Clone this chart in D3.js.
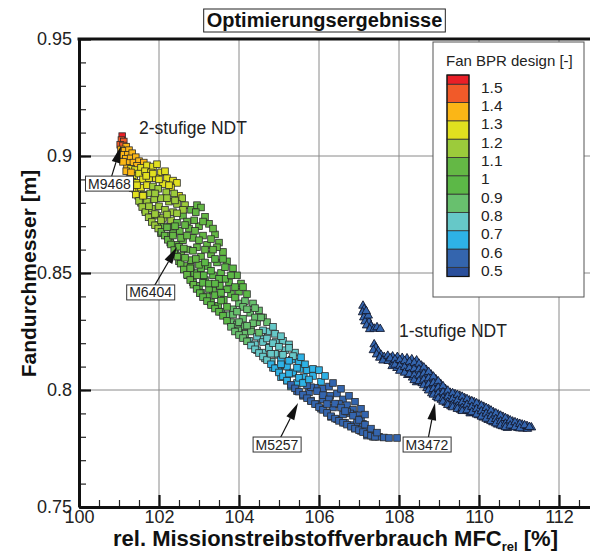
<!DOCTYPE html>
<html lang="de">
<head>
<meta charset="utf-8">
<title>Optimierungsergebnisse</title>
<script src="https://cdn.jsdelivr.net/npm/d3@7"></script>
<style>
  body { margin: 0; background: #fff; }
  svg { display: block; font-family: "Liberation Sans", Arial, sans-serif; }
</style>
</head>
<body>
<div id="chart"></div>
<script>
// axis ticks
const xTicks = [100, 102, 104, 106, 108, 110, 112]
const yTicks = [0.75, 0.8, 0.85, 0.9, 0.95]
const yTickLabels = ['0.75', '0.8', '0.85', '0.9', '0.95']

// Fan BPR legend levels and colours (12 bands)
const bprLevels = [0.5, 0.6, 0.7, 0.8, 0.9, 1.0, 1.1, 1.2, 1.3, 1.4, 1.5]
const bprLabels = ['0.5', '0.6', '0.7', '0.8', '0.9', '1', '1.1', '1.2', '1.3', '1.4', '1.5']
const bprColors = ['#2a4f9c', '#3465ae', '#2eb2e6', '#66c8c8', '#68c06e', '#5cb847',
                   '#64b845', '#9ccb3b', '#e1e01f', '#fbb616', '#f15a29', '#e91f27']

// 2-stufige NDT: [MFC rel %, Fandurchmesser m, Fan BPR]
const twoStage = [
  [101.08,.9085,1.52],[101.06,.9068,1.46],[101.12,.9062,1.44],[101.03,.9048,1.42],[101.10,.9045,1.41],
  [101.18,.9040,1.38],[101.05,.9028,1.39],[101.14,.9022,1.37],[101.25,.9025,1.36],[101.10,.9005,1.36],
  [101.22,.9005,1.35],[101.33,.9012,1.34],[101.17,.8988,1.34],[101.29,.8990,1.33],[101.42,.8995,1.33],
  [101.24,.8970,1.32],[101.36,.8972,1.32],[101.50,.8978,1.31],[101.62,.8972,1.31],[101.45,.8958,1.31],
  [101.20,.8950,1.31],
  [101.30,.8945,1.28],[101.40,.8940,1.27],[101.55,.8950,1.28],[101.70,.8960,1.27],[101.85,.8955,1.26],
  [101.95,.8965,1.25],[101.28,.8920,1.26],[101.38,.8915,1.25],[101.50,.8925,1.25],[101.65,.8935,1.25],
  [101.80,.8930,1.24],[102.05,.8930,1.23],[102.20,.8905,1.22],[102.35,.8895,1.22],[102.45,.8885,1.21],
  [101.33,.8890,1.24],[101.45,.8885,1.23],[101.60,.8900,1.23],[101.75,.8905,1.22],[101.92,.8905,1.22],
  [102.10,.8880,1.21],[102.30,.8865,1.21],[102.50,.8830,1.21],[101.40,.8860,1.22],[101.55,.8865,1.21],
  [101.70,.8875,1.21],
  [101.85,.8870,1.19],[101.98,.8860,1.18],[102.18,.8845,1.17],[102.38,.8840,1.16],[102.58,.8820,1.15],
  [101.48,.8830,1.19],[101.62,.8835,1.18],[101.78,.8840,1.18],[101.55,.8800,1.17],[101.70,.8805,1.16],
  [101.88,.8815,1.16],[102.05,.8820,1.15],[102.25,.8805,1.14],[102.45,.8795,1.13],[101.65,.8770,1.15],
  [101.82,.8775,1.14],[102.00,.8785,1.13],[102.15,.8770,1.12],[102.35,.8760,1.12],[102.65,.8790,1.11],
  [101.80,.8740,1.13],[101.95,.8745,1.12],[102.10,.8735,1.11],[102.30,.8725,1.11],
  [101.98,.8705,1.09],[102.12,.8700,1.08],[102.28,.8695,1.08],[102.45,.8715,1.07],[102.60,.8745,1.07],
  [102.80,.8770,1.06],[102.95,.8790,1.06],[103.05,.8780,1.05],[102.92,.8760,1.05],[103.15,.8740,1.05],
  [102.70,.8720,1.06],[102.05,.8670,1.07],[102.20,.8660,1.06],[102.35,.8670,1.06],[102.52,.8680,1.05],
  [102.75,.8690,1.05],[103.00,.8700,1.04],[103.25,.8710,1.03],[102.28,.8630,1.05],[102.42,.8620,1.05],
  [102.60,.8640,1.04],[102.85,.8650,1.03],[103.10,.8660,1.03],[103.40,.8665,1.02],[102.40,.8590,1.04],
  [102.55,.8575,1.03],[102.72,.8600,1.03],[102.95,.8610,1.02],[103.20,.8620,1.02],[103.50,.8630,1.01],
  [102.50,.8550,1.02],[102.65,.8530,1.02],[102.80,.8555,1.01],[103.05,.8570,1.01],[103.30,.8580,1.01],
  [103.60,.8590,1.00],
  [102.72,.8490,0.99],[102.88,.8500,0.99],[103.05,.8520,0.98],[103.22,.8530,0.98],[103.45,.8545,0.97],
  [103.70,.8550,0.97],[103.85,.8520,0.96],[102.85,.8460,0.98],[103.00,.8445,0.97],[103.15,.8470,0.97],
  [103.35,.8490,0.96],[103.55,.8500,0.96],[103.95,.8490,0.95],[103.05,.8415,0.96],[103.20,.8400,0.95],
  [103.35,.8425,0.95],[103.52,.8445,0.94],[103.75,.8460,0.94],[104.05,.8455,0.93],[103.30,.8375,0.94],
  [103.48,.8360,0.93],[103.62,.8385,0.93],[103.80,.8410,0.92],[104.00,.8420,0.92],[104.20,.8410,0.91],
  [103.55,.8335,0.89],[103.70,.8320,0.89],[103.85,.8345,0.88],[104.00,.8370,0.88],[104.15,.8380,0.87],
  [104.35,.8370,0.87],[103.80,.8290,0.87],[103.95,.8280,0.86],[104.10,.8305,0.86],[104.28,.8330,0.85],
  [104.50,.8340,0.85],[104.00,.8255,0.85],[104.15,.8240,0.84],[104.30,.8265,0.83],[104.45,.8290,0.83],
  [104.60,.8310,0.82],
  [104.25,.8210,0.79],[104.40,.8195,0.79],[104.55,.8220,0.78],[104.72,.8250,0.78],[104.90,.8240,0.77],
  [104.45,.8170,0.77],[104.60,.8160,0.76],[104.75,.8185,0.76],[104.92,.8205,0.75],[105.10,.8210,0.74],
  [105.25,.8195,0.73],[104.65,.8135,0.74],[104.82,.8120,0.73],[104.98,.8150,0.72],[105.15,.8170,0.72],
  [105.40,.8160,0.71],
  [104.85,.8095,0.69],[105.00,.8080,0.69],[105.15,.8105,0.68],[105.32,.8130,0.68],[105.50,.8120,0.67],
  [105.05,.8055,0.67],[105.20,.8040,0.66],[105.35,.8070,0.66],[105.52,.8090,0.65],[105.70,.8085,0.65],
  [105.30,.8015,0.64],[105.45,.8030,0.63],[105.62,.8055,0.63],[105.85,.8060,0.62],[106.05,.8035,0.61],
  [105.45,.7995,0.59],[105.60,.7975,0.58],[105.75,.7990,0.58],[105.90,.8010,0.58],[106.10,.8005,0.57],
  [106.25,.8015,0.57],[105.80,.7955,0.57],[105.95,.7940,0.57],[106.10,.7960,0.56],[106.28,.7975,0.56],
  [106.45,.7985,0.56],[106.60,.7960,0.55],[106.05,.7920,0.56],[106.20,.7905,0.55],[106.35,.7925,0.55],
  [106.50,.7940,0.55],[106.70,.7935,0.54],[106.85,.7915,0.54],[106.30,.7885,0.54],[106.45,.7875,0.54],
  [106.60,.7895,0.54],[106.78,.7900,0.53],[106.95,.7895,0.53],[107.05,.7875,0.53],[106.65,.7860,0.53],
  [106.80,.7850,0.53],[106.95,.7860,0.52],[107.10,.7855,0.52],[106.90,.7835,0.52],[107.05,.7825,0.52],
  [107.20,.7830,0.52],[107.35,.7815,0.52],[107.20,.7805,0.51],[107.35,.7800,0.51],[107.50,.7800,0.51],
  [107.62,.7797,0.51],[107.75,.7795,0.51],[107.95,.7795,0.51],
  // dense lower edge
  [101.10,.8975,1.37],[101.18,.8935,1.33],[101.26,.8900,1.28],[101.34,.8862,1.25],[101.42,.8835,1.22],
  [101.50,.8808,1.19],[101.58,.8782,1.17],[101.66,.8760,1.15],[101.74,.8738,1.13],[101.82,.8718,1.12],
  [101.90,.8704,1.11],[101.98,.8690,1.10],[102.06,.8676,1.09],[102.14,.8660,1.08],[102.22,.8642,1.07],
  [102.30,.8622,1.06],[102.38,.8598,1.05],[102.46,.8570,1.05],[102.54,.8540,1.04],[102.62,.8515,1.03],
  [102.70,.8492,1.02],[102.78,.8470,1.01],[102.86,.8450,1.00],[102.94,.8432,0.99],[103.02,.8414,0.98],
  [103.10,.8397,0.98],[103.20,.8380,0.97],[103.30,.8363,0.96],[103.40,.8348,0.95],[103.50,.8334,0.94],
  [103.60,.8317,0.92],[103.70,.8296,0.90],[103.80,.8270,0.89],[103.90,.8250,0.88],[104.00,.8235,0.86],
  [104.10,.8222,0.84],[104.20,.8208,0.81],[104.30,.8190,0.79],[104.40,.8174,0.77],[104.50,.8158,0.75],
  [104.60,.8143,0.73],[104.70,.8128,0.71],[104.80,.8110,0.69],[104.90,.8093,0.67],[105.00,.8075,0.65],
  [105.10,.8058,0.63],[105.20,.8040,0.61],[105.30,.8022,0.59],[105.40,.8007,0.58],[105.50,.7993,0.57],
  [105.60,.7980,0.57],[105.70,.7965,0.56],[105.80,.7952,0.56],[105.90,.7940,0.55],[106.00,.7927,0.55],
  [106.10,.7915,0.55],[106.20,.7902,0.54],[106.30,.7888,0.54],[106.40,.7878,0.54],[106.50,.7868,0.53],
  [106.60,.7860,0.53],[106.70,.7852,0.53],[106.80,.7843,0.53],[106.90,.7835,0.52],[107.00,.7828,0.52],
  [107.10,.7820,0.52],[107.20,.7812,0.52],[107.30,.7805,0.51],[107.40,.7800,0.51],
  // second row above the edge
  [101.30,.8930,1.30],[101.45,.8875,1.24],[101.60,.8830,1.20],[101.75,.8785,1.16],[101.90,.8752,1.13],
  [102.05,.8725,1.11],[102.20,.8695,1.09],[102.35,.8660,1.07],[102.50,.8612,1.05],[102.65,.8565,1.04],
  [102.80,.8525,1.02],[102.95,.8490,1.00],[103.10,.8458,0.98],[103.25,.8432,0.97],[103.40,.8405,0.95],
  [103.55,.8382,0.93],[103.70,.8355,0.91],[103.85,.8322,0.89],[104.00,.8290,0.87],[104.15,.8272,0.85],
  [104.30,.8250,0.82],[104.45,.8228,0.79],[104.60,.8205,0.77],[104.75,.8180,0.74],[104.90,.8155,0.71],
  [105.05,.8128,0.68],[105.20,.8100,0.66],[105.35,.8075,0.64],[105.50,.8052,0.62],[105.65,.8032,0.60],
  [105.80,.8012,0.58],[105.95,.7995,0.57],[106.10,.7978,0.56],[106.25,.7960,0.55],[106.40,.7942,0.55],
  [106.55,.7925,0.54],[106.70,.7908,0.54],[106.85,.7890,0.53],[107.00,.7872,0.53],[107.15,.7852,0.52],
  [107.30,.7835,0.52],[107.45,.7818,0.51],
  // scattered fill in the upper part of the band
  [102.55,.8650,1.05],[102.90,.8680,1.04],[103.35,.8690,1.03],[102.85,.8595,1.03],[103.15,.8600,1.02],
  [103.45,.8610,1.01],[103.00,.8535,1.00],[103.40,.8560,0.98],[103.65,.8525,0.97],[103.25,.8455,0.96],
  [103.65,.8475,0.95],[103.90,.8440,0.93],[104.10,.8355,0.87],[104.40,.8310,0.84],[104.70,.8290,0.80],
  [104.60,.8255,0.79],[104.85,.8270,0.78],[105.05,.8230,0.75],[105.25,.8180,0.73],[105.35,.8145,0.70],
  [105.55,.8140,0.68],[105.10,.8150,0.72],[105.65,.8110,0.64],[105.85,.8090,0.62],[106.00,.8085,0.61],
  [106.15,.8060,0.60],[106.35,.8030,0.58],[106.55,.8005,0.57],[106.75,.7975,0.56],[106.90,.7950,0.55],
  [107.05,.7920,0.55],[107.15,.7895,0.54],[106.20,.7940,0.56],[106.65,.7910,0.54],[105.70,.8020,0.59],
  [102.40,.8700,1.07],[102.65,.8705,1.06],[102.88,.8725,1.05],[103.10,.8720,1.04],[102.70,.8660,1.04],
  [103.00,.8640,1.03],[103.30,.8645,1.02],[102.62,.8605,1.04],[103.35,.8600,1.01],[103.60,.8560,0.98],
  [102.92,.8560,1.01],[103.15,.8545,0.99],[102.78,.8520,1.01],[103.30,.8510,0.97],[103.50,.8475,0.96],
  [103.80,.8490,0.95],[103.12,.8490,0.98],[103.40,.8455,0.95],[103.70,.8430,0.93],[103.90,.8395,0.91],
  [104.10,.8440,0.92],[103.55,.8415,0.94],[103.95,.8335,0.88],[104.20,.8345,0.87],[104.40,.8350,0.86],
  [104.55,.8310,0.84],[104.35,.8285,0.84],[104.20,.8275,0.84],[104.50,.8245,0.81],[104.70,.8220,0.78],
  [104.85,.8200,0.76],[105.00,.8185,0.74],[104.80,.8155,0.74],[105.05,.8110,0.69],[105.25,.8125,0.69],
  [105.45,.8095,0.66],[105.25,.8070,0.66],[105.60,.8030,0.61],[105.75,.8045,0.62],
  [101.85,.8925,1.25],[102.00,.8900,1.23],[102.25,.8875,1.21],[101.68,.8915,1.24],[102.15,.8935,1.24],
  [101.90,.8840,1.18],[102.20,.8820,1.15],[102.40,.8810,1.14],[102.60,.8770,1.10],[102.45,.8755,1.10],
  [102.20,.8750,1.11]
]

// 1-stufige NDT: [MFC rel %, Fandurchmesser m]
const oneStage = [
  [107.10,.8360],[107.13,.8346],[107.09,.8332],[107.16,.8322],[107.12,.8310],[107.21,.8306],[107.15,.8293],
  [107.25,.8290],[107.19,.8276],[107.30,.8273],[107.27,.8260],[107.38,.8262],[107.45,.8268],[107.53,.8261],
  [107.23,.8318],[107.18,.8337],
  [107.38,.8195],[107.42,.8181],[107.36,.8170],[107.48,.8166],[107.44,.8152],[107.55,.8150],[107.52,.8138],
  [107.63,.8141],[107.60,.8126],
  [107.72,.8146],[107.73,.8124],[107.84,.8143],[107.85,.8119],[107.83,.8102],[107.96,.8141],[107.97,.8117],
  [107.95,.8094],[108.08,.8137],[108.09,.8112],[108.07,.8088],[108.20,.8135],[108.21,.8109],[108.19,.8085],
  [108.22,.8064],[108.32,.8131],[108.33,.8104],[108.31,.8079],[108.34,.8053],[108.44,.8126],[108.45,.8099],
  [108.43,.8074],[108.46,.8049],[108.44,.8033],[108.56,.8104],[108.57,.8079],[108.55,.8054],[108.58,.8029],
  [108.68,.8086],[108.69,.8059],[108.67,.8034],[108.70,.8008],[108.80,.8066],[108.81,.8039],[108.79,.8014],
  [108.82,.7986],[108.92,.8046],[108.93,.8019],[108.91,.7994],[108.94,.7970],[109.04,.8026],[109.05,.7999],
  [109.03,.7975],[109.06,.7958],[109.16,.8004],[109.17,.7979],[109.15,.7955],[109.18,.7945],[109.28,.7988],
  [109.29,.7964],[109.27,.7941],[109.30,.7930],[109.40,.7982],[109.41,.7959],[109.39,.7935],[109.52,.7975],
  [109.53,.7951],[109.51,.7928],[109.54,.7915],[109.64,.7965],[109.65,.7941],[109.63,.7918],[109.76,.7955],
  [109.77,.7931],[109.75,.7909],[109.78,.7900],[109.88,.7948],[109.89,.7924],[109.87,.7902],[110.00,.7938],
  [110.01,.7914],[109.99,.7892],[110.12,.7928],[110.13,.7904],[110.11,.7882],[110.24,.7918],[110.25,.7894],
  [110.23,.7872],[110.36,.7905],[110.37,.7881],[110.35,.7862],[110.48,.7895],[110.49,.7871],[110.47,.7852],
  [110.60,.7885],[110.61,.7861],[110.59,.7845],[110.72,.7875],[110.73,.7851],[110.71,.7838],[110.84,.7865],
  [110.85,.7845],[110.96,.7858],[110.97,.7838],[111.08,.7852],[111.09,.7835],[111.20,.7846],[111.21,.7834],
  [111.31,.7840],
  [107.78,.8135],[107.90,.8130],[107.90,.8108],[108.02,.8128],[108.02,.8103],[108.02,.8082],[108.14,.8124],
  [108.14,.8098],[108.14,.8074],[108.26,.8120],[108.26,.8094],[108.26,.8068],[108.38,.8116],[108.38,.8090],
  [108.38,.8063],[108.38,.8042],[108.50,.8112],[108.50,.8088],[108.50,.8062],[108.50,.8038],[108.62,.8096],
  [108.62,.8070],[108.62,.8044],[108.62,.8020],[108.74,.8077],[108.74,.8050],[108.74,.8024],[108.74,.7998],
  [108.86,.8057],[108.86,.8030],[108.86,.8004],[108.86,.7980],[108.98,.8037],[108.98,.8010],[108.98,.7985],
  [108.98,.7964],[109.10,.8016],[109.10,.7990],[109.10,.7966],[109.10,.7950],[109.22,.7997],[109.22,.7972],
  [109.22,.7948],[109.22,.7936],[109.34,.7986],[109.34,.7962],[109.34,.7938],[109.34,.7926],[109.46,.7979],
  [109.46,.7955],[109.46,.7931],[109.46,.7919],[109.58,.7971],[109.58,.7947],[109.58,.7923],[109.58,.7910],
  [109.70,.7961],[109.70,.7937],[109.70,.7913],[109.82,.7952],[109.82,.7928],[109.82,.7905],[109.94,.7943],
  [109.94,.7919],[109.94,.7895],[110.06,.7933],[110.06,.7909],[110.06,.7886],[110.18,.7923],[110.18,.7899],
  [110.18,.7877],[110.30,.7912],[110.30,.7888],[110.30,.7867],[110.42,.7900],[110.42,.7876],[110.42,.7857],
  [110.54,.7890],[110.54,.7866],[110.54,.7848],[110.66,.7880],[110.66,.7856],[110.66,.7841],[110.78,.7870],
  [110.78,.7848],[110.90,.7862],[110.90,.7841],[111.02,.7855],[111.02,.7836],[111.14,.7849],[111.26,.7842]
]
const oneStageBpr = 0.55

// marked designs: name, target point, label position
const designNames = ['M9468', 'M6404', 'M5257', 'M3472']
const designTargets = [[101.05, 0.9043], [102.45, 0.8611], [105.475, 0.7944], [108.9, 0.7944]]
const designLabelPos = [[100.76, 0.8882], [101.79, 0.8417], [104.95, 0.7767], [108.7, 0.7767]]

// group annotations
const groupNames = ['2-stufige NDT', '1-stufige NDT']
const groupPos = [[101.5, 0.9094], [108.0, 0.8226]]

const W = 590, H = 554
const x = d3.scaleLinear().domain([100, 112.8]).range([79, 591])
const y = d3.scaleLinear().domain([0.75, 0.95]).range([507, 39])
const color = d3.scaleThreshold().domain(bprLevels).range(bprColors)

const svg = d3.select('#chart').append('svg')
    .attr('width', W)
    .attr('height', H)

// grid
const grid = svg.append('g').attr('stroke', '#8a8a8a').attr('stroke-width', 1)
grid.selectAll('.vx').data(xTicks.slice(1))
    .enter().append('line')
    .attr('x1', d => x(d)).attr('x2', d => x(d))
    .attr('y1', y(0.95)).attr('y2', y(0.75))
grid.selectAll('.hy').data(yTicks.slice(1, -1))
    .enter().append('line')
    .attr('x1', x(100)).attr('x2', W)
    .attr('y1', d => y(d)).attr('y2', d => y(d))

// x axis
const xMinor = d3.range(100, 112.8, 0.5)
const xAxisMinor = svg.append('g')
    .attr('transform', 'translate(0,' + y(0.75) + ')')
    .call(d3.axisBottom(x).tickValues(xMinor).tickSize(-7).tickFormat(''))
xAxisMinor.select('.domain').remove()
xAxisMinor.selectAll('line').attr('stroke', '#222').attr('stroke-width', 1.2)

const xAxis = svg.append('g')
    .attr('transform', 'translate(0,' + y(0.75) + ')')
    .call(d3.axisBottom(x).tickValues(xTicks).tickSize(-12).tickSizeOuter(0).tickPadding(3).tickFormat(d3.format('d')))
xAxis.select('.domain').attr('stroke', '#111').attr('stroke-width', 3)
xAxis.selectAll('line').attr('stroke', '#111').attr('stroke-width', 2.2)
xAxis.selectAll('text').attr('font-size', 18).attr('fill', '#222')

// y axis
const yMinor = d3.range(0.75, 0.951, 0.01)
const yAxisMinor = svg.append('g')
    .attr('transform', 'translate(' + x(100) + ',0)')
    .call(d3.axisLeft(y).tickValues(yMinor).tickSize(-7).tickFormat(''))
yAxisMinor.select('.domain').remove()
yAxisMinor.selectAll('line').attr('stroke', '#222').attr('stroke-width', 1.2)

const yAxis = svg.append('g')
    .attr('transform', 'translate(' + x(100) + ',0)')
    .call(d3.axisLeft(y).tickValues(yTicks).tickSize(-12).tickSizeOuter(0).tickPadding(7)
        .tickFormat((d, i) => yTickLabels[i]))
yAxis.select('.domain').attr('stroke', '#111').attr('stroke-width', 3)
yAxis.selectAll('line').attr('stroke', '#111').attr('stroke-width', 2.2)
yAxis.selectAll('text').attr('font-size', 18).attr('fill', '#222')

// top frame
svg.append('line')
    .attr('x1', x(100) - 1.5).attr('x2', W)
    .attr('y1', y(0.95)).attr('y2', y(0.95))
    .attr('stroke', '#111').attr('stroke-width', 3)

// points: 2-stufige (squares)
const sq = 6.6
svg.append('g').selectAll('rect')
    .data(twoStage)
    .enter().append('rect')
    .attr('x', d => x(d[0]) - sq / 2)
    .attr('y', d => y(d[1]) - sq / 2)
    .attr('width', sq).attr('height', sq)
    .attr('fill', d => color(d[2]))
    .attr('stroke', '#2b2b2b')
    .attr('stroke-width', 0.8)

// points: 1-stufige (triangles)
const tri = d3.symbol().type(d3.symbolTriangle).size(32)
svg.append('g').selectAll('path')
    .data(oneStage)
    .enter().append('path')
    .attr('d', tri)
    .attr('transform', d => 'translate(' + x(d[0]) + ',' + y(d[1]) + ')')
    .attr('fill', color(oneStageBpr))
    .attr('stroke', '#141a2e')
    .attr('stroke-width', 0.9)

// group labels
svg.append('g').selectAll('text')
    .data(groupNames)
    .enter().append('text')
    .attr('x', (d, i) => x(groupPos[i][0]))
    .attr('y', (d, i) => y(groupPos[i][1]))
    .attr('font-size', 17.5)
    .attr('fill', '#222')
    .text(d => d)

// design markers with arrows
const ann = svg.append('g')
designNames.forEach(function(name, i) {
    const tx = x(designTargets[i][0]), ty = y(designTargets[i][1])
    const lx = x(designLabelPos[i][0]), ly = y(designLabelPos[i][1])
    const ang = Math.atan2(ty - ly, tx - lx)
    const len = 17, hw = 4.4
    const bx = tx - len * Math.cos(ang), by = ty - len * Math.sin(ang)
    ann.append('line')
        .attr('x1', lx).attr('y1', ly).attr('x2', bx).attr('y2', by)
        .attr('stroke', '#111').attr('stroke-width', 1.2)
    ann.append('path')
        .attr('d', 'M' + tx + ',' + ty +
            'L' + (bx + hw * Math.sin(ang)) + ',' + (by - hw * Math.cos(ang)) +
            'L' + (bx - hw * Math.sin(ang)) + ',' + (by + hw * Math.cos(ang)) + 'Z')
        .attr('fill', '#111')
    const lab = ann.append('text')
        .attr('x', lx).attr('y', ly + 5)
        .attr('text-anchor', 'middle')
        .attr('font-size', 14)
        .attr('fill', '#222')
        .text(name)
    const bb = lab.node().getBBox()
    ann.insert('rect', function() { return lab.node() })
        .attr('x', bb.x - 2.5).attr('y', ly - 7.5)
        .attr('width', bb.width + 5).attr('height', 15)
        .attr('fill', '#fff').attr('stroke', '#333').attr('stroke-width', 1)
})

// legend
const lg = svg.append('g')
lg.append('rect')
    .attr('x', 433).attr('y', 42).attr('width', 151).attr('height', 255)
    .attr('fill', '#fff').attr('stroke', '#555').attr('stroke-width', 1)
lg.append('text')
    .attr('x', 446).attr('y', 66)
    .attr('font-size', 15).attr('fill', '#222')
    .text('Fan BPR design [-]')
const ly = d3.scaleLinear().domain([0.45, 1.55]).range([276.5, 75])
const bounds = [0.45].concat(bprLevels).concat([1.55])
lg.selectAll('.seg').data(bprColors)
    .enter().append('rect')
    .attr('x', 447).attr('width', 22)
    .attr('y', (d, i) => ly(bounds[i + 1]))
    .attr('height', (d, i) => ly(bounds[i]) - ly(bounds[i + 1]))
    .attr('fill', d => d)
    .attr('stroke', '#333').attr('stroke-width', 0.8)
lg.append('rect')
    .attr('x', 447).attr('y', ly(1.55)).attr('width', 22).attr('height', ly(0.45) - ly(1.55))
    .attr('fill', 'none').attr('stroke', '#111').attr('stroke-width', 1.2)
lg.selectAll('.lab').data(bprLevels)
    .enter().append('text')
    .attr('x', 481)
    .attr('y', d => ly(d) + 8.5)
    .attr('font-size', 15.5).attr('fill', '#222')
    .text((d, i) => bprLabels[i])

// title
const title = svg.append('text')
    .attr('x', 324.5).attr('y', 27)
    .attr('text-anchor', 'middle')
    .attr('font-size', 20).attr('font-weight', 'bold').attr('fill', '#111')
    .text('Optimierungsergebnisse')
const tb = title.node().getBBox()
svg.insert('rect', function() { return title.node() })
    .attr('x', tb.x - 3).attr('y', 9).attr('width', tb.width + 6).attr('height', 23)
    .attr('fill', '#fff').attr('stroke', '#222').attr('stroke-width', 1)

// axis titles
const xt = svg.append('text')
    .attr('x', 335.5).attr('y', 546)
    .attr('text-anchor', 'middle')
    .attr('font-size', 22).attr('font-weight', 'bold').attr('fill', '#111')
xt.append('tspan').text('rel. Missionstreibstoffverbrauch MFC')
xt.append('tspan').attr('font-size', 13).attr('dy', 5).text('rel')
xt.append('tspan').attr('dy', -5).text(' [%]')

svg.append('text')
    .attr('transform', 'translate(36,273.5) rotate(-90)')
    .attr('text-anchor', 'middle')
    .attr('font-size', 21).attr('font-weight', 'bold').attr('fill', '#111')
    .text('Fandurchmesser [m]')
</script>
</body>
</html>
